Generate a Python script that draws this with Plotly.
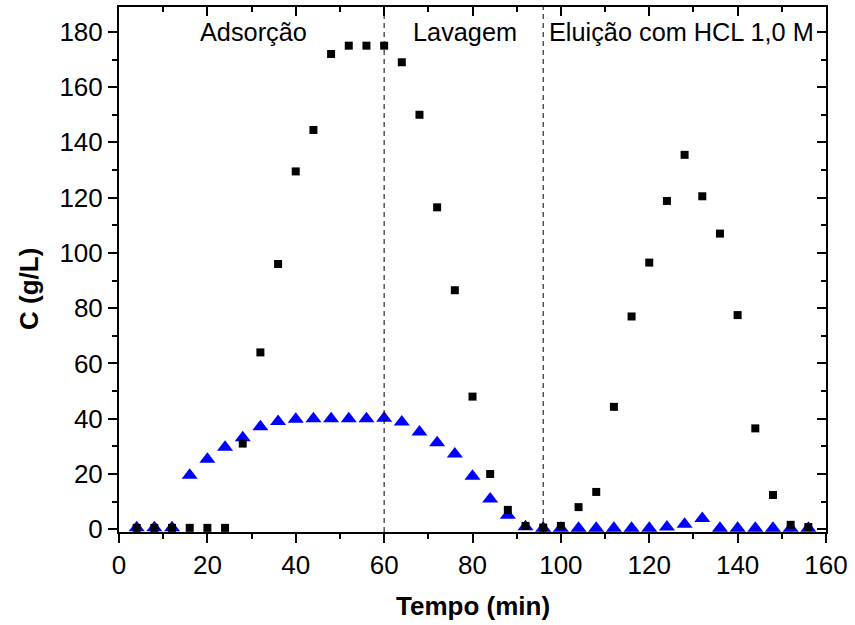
import plotly.graph_objects as go

tempo = [4, 8, 12, 16, 20, 24, 28, 32, 36, 40, 44, 48, 52, 56, 60, 64, 68, 72, 76, 80,
         84, 88, 92, 96, 100, 104, 108, 112, 116, 120, 124, 128, 132, 136, 140, 144, 148, 152, 156]

serie_quadrado = [0.5, 0.5, 0.5, 0.5, 0.5, 0.5, 31, 64, 96, 129.5, 144.5, 172, 175, 175, 175, 169, 150, 116.5, 86.5, 48,
                  20, 7, 1.2, 0.6, 1.2, 8, 13.5, 44.3, 77, 96.5, 118.8, 135.5, 120.5, 107, 77.5, 36.5, 12.4, 1.6, 0.8]

serie_triangulo = [0.5, 0.5, 0.5, 19.5, 25.3, 29.7, 33.1, 37.1, 39, 39.8, 40, 40, 40, 40, 40.2, 38.8, 35.2, 31.3, 27.2, 19.2,
                   10.9, 5.1, 0.9, 0.4, 0.4, 0.4, 0.4, 0.4, 0.4, 0.4, 0.8, 1.8, 3.9, 0.4, 0.4, 0.4, 0.4, 0.4, 0.4]

limites_fase = [60, 96]
fases = ["Adsorção", "Lavagem", "Eluição com HCL 1,0 M"]
fases_x = [30.4, 78.2, 127.3]

FONT = "Arial, Liberation Sans, sans-serif"

fig = go.Figure()
fig.add_trace(go.Scatter(
    x=tempo, y=serie_triangulo, mode="markers",
    marker=dict(symbol="triangle-up", size=14, color="#0000FF", line=dict(width=0)),
    showlegend=False, hoverinfo="skip"))
fig.add_trace(go.Scatter(
    x=tempo, y=serie_quadrado, mode="markers",
    marker=dict(symbol="square", size=8, color="#000000", line=dict(width=0)),
    showlegend=False, hoverinfo="skip"))
fig.add_trace(go.Scatter(x=[None], y=[None], xaxis="x2", yaxis="y2",
                         showlegend=False, hoverinfo="skip"))

for xv in limites_fase:
    fig.add_shape(type="line", x0=xv, x1=xv, y0=0, y1=1, xref="x", yref="paper",
                  line=dict(color="black", width=1, dash="5px,4px"))

for txt, xv in zip(fases, fases_x):
    fig.add_annotation(x=xv, y=179.9, xref="x", yref="y", text=txt, showarrow=False,
                       font=dict(family=FONT, size=25.3, color="black"),
                       xanchor="center", yanchor="middle")

# axis titles
fig.add_annotation(x=0.5, y=-0.141, xref="paper", yref="paper", text="<b>Tempo (min)</b>",
                   showarrow=False, font=dict(family=FONT, size=26, color="black"),
                   xanchor="center", yanchor="middle")
fig.add_annotation(x=-0.1273, y=0.463, xref="paper", yref="paper", text="<b>C (g/L)</b>",
                   showarrow=False, textangle=-90, font=dict(family=FONT, size=26, color="black"),
                   xanchor="center", yanchor="middle")

axis_common = dict(showgrid=False, zeroline=False, showline=True, linecolor="black", linewidth=2,
                   ticks="outside", ticklen=9, tickwidth=2, tickcolor="black",
                   tickfont=dict(family=FONT, size=26, color="black"))

fig.update_layout(
    width=855, height=625,
    margin=dict(l=119, r=25, t=7, b=93),
    paper_bgcolor="white", plot_bgcolor="white",
    xaxis=dict(range=[0, 160], tick0=0, dtick=20,
               minor=dict(dtick=10, ticklen=5, tickwidth=2, ticks="outside", tickcolor="black"),
               **axis_common),
    yaxis=dict(range=[-1, 189], tick0=0, dtick=20,
               minor=dict(dtick=10, ticklen=5, tickwidth=2, ticks="outside", tickcolor="black"),
               **axis_common),
    xaxis2=dict(overlaying="x", side="top", range=[0, 160], tick0=0, dtick=20,
                showgrid=False, zeroline=False, showline=True, linecolor="black", linewidth=2,
                ticks="inside", ticklen=9, tickwidth=2, tickcolor="black", showticklabels=False,
                minor=dict(dtick=10, ticklen=5, tickwidth=2, ticks="inside", tickcolor="black")),
    yaxis2=dict(overlaying="y", side="right", anchor="x", range=[-1, 189], tick0=0, dtick=20,
                showgrid=False, zeroline=False, showline=True, linecolor="black", linewidth=2,
                ticks="inside", ticklen=9, tickwidth=2, tickcolor="black", showticklabels=False,
                minor=dict(dtick=10, ticklen=5, tickwidth=2, ticks="inside", tickcolor="black")),
)

fig.write_html("out.html")
